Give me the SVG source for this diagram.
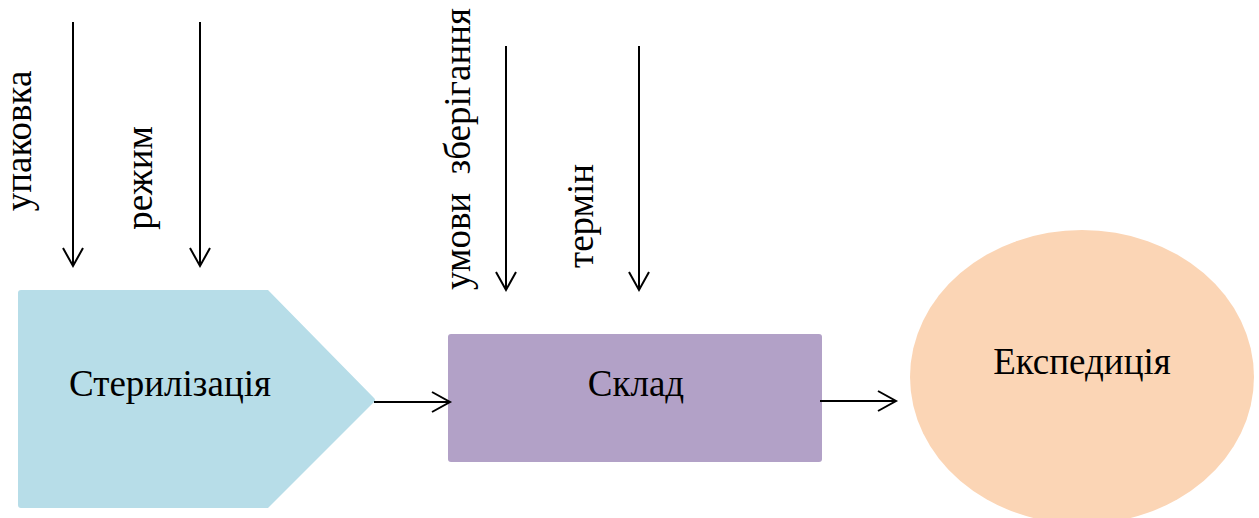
<svg xmlns="http://www.w3.org/2000/svg" width="1259" height="518" viewBox="0 0 1259 518">
<defs>
<style>
text{font-family:"Liberation Serif","Times New Roman",serif;font-size:37px;fill:#000}
.c{text-anchor:middle}
.ln{stroke:#000;stroke-width:2;fill:none}
</style>
<marker id="ah" markerUnits="userSpaceOnUse" markerWidth="24" markerHeight="24" viewBox="-20 -12 24 24" refX="0" refY="0" orient="auto">
<path d="M-18,-10 L0,0 L-18,10" fill="none" stroke="#000" stroke-width="2"/>
</marker>
</defs>
<rect width="1259" height="518" fill="#fff"/>
<g id="sterilization">
<path d="M21,290 L268,290 L374,398 Q376,400 374,402 L268,508 L21,508 Q18,508 18,505 L18,293 Q18,290 21,290 Z" fill="#B7DDE8"/>
<text class="c" x="170" y="396">Стерилізація</text>
</g>
<g id="sklad">
<rect x="448" y="334" width="374" height="128" rx="3" fill="#B2A1C7"/>
<text class="c" x="636" y="396">Склад</text>
</g>
<g id="expedition">
<ellipse cx="1082" cy="377" rx="172" ry="147" fill="#FBD5B5"/>
<text class="c" x="1082" y="374">Експедиція</text>
</g>
<g id="labels">
<text class="c" transform="translate(31,141) rotate(-90)">упаковка</text>
<text class="c" transform="translate(152,178) rotate(-90)">режим</text>
<text class="c" transform="translate(470,149) rotate(-90)" xml:space="preserve">умови  зберігання</text>
<text class="c" transform="translate(593,216) rotate(-90)">термін</text>
</g>
<g id="connectors">
<line class="ln" x1="73" y1="22" x2="73" y2="266" marker-end="url(#ah)"/>
<line class="ln" x1="200" y1="22" x2="200" y2="266" marker-end="url(#ah)"/>
<line class="ln" x1="506" y1="46" x2="506" y2="290" marker-end="url(#ah)"/>
<line class="ln" x1="639" y1="46" x2="639" y2="290" marker-end="url(#ah)"/>
<line class="ln" x1="374" y1="402" x2="450" y2="402" marker-end="url(#ah)"/>
<line class="ln" x1="820" y1="401" x2="896" y2="401" marker-end="url(#ah)"/>
</g>
</svg>
